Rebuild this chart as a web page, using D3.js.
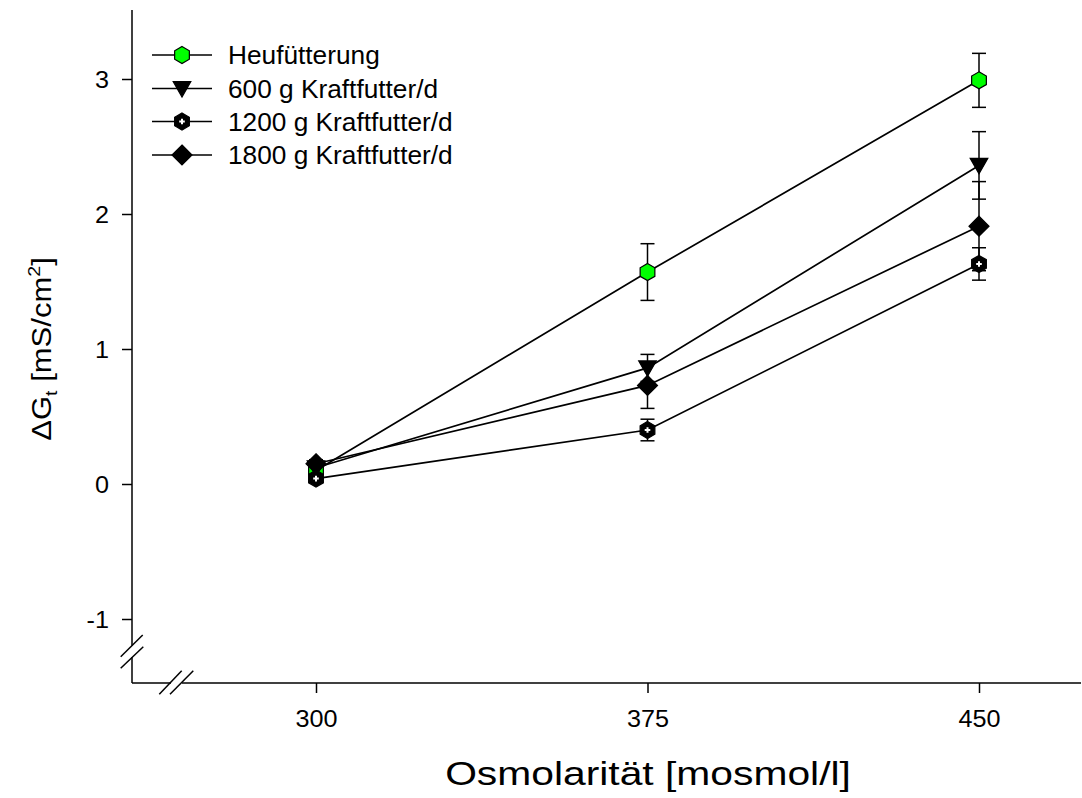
<!DOCTYPE html>
<html><head><meta charset="utf-8">
<script src="https://cdn.jsdelivr.net/npm/d3@7"></script>
<style>
html,body{margin:0;padding:0;background:#fff;}
text{font-family:"Liberation Sans",Arial,sans-serif;fill:#000;}
</style></head>
<body><svg id="chart" width="1082" height="798"></svg>
<script>
// ---- data ----
const osmolarity = [300, 375, 450];
const seriesNames = ["Heufütterung", "600 g Kraftfutter/d", "1200 g Kraftfutter/d", "1800 g Kraftfutter/d"];
const heuMean = [0.10, 1.57, 2.99];
const heuErr = [0.03, 0.21, 0.20];
const k600Mean = [0.12, 0.86, 2.36];
const k600Err = [0.03, 0.10, 0.25];
const k1200Mean = [0.04, 0.40, 1.63];
const k1200Err = [0.02, 0.08, 0.12];
const k1800Mean = [0.15, 0.73, 1.91];
const k1800Err = [0.03, 0.17, 0.33];
const yTicks = [-1, 0, 1, 2, 3];
const yTickLabels = ["-1", "0", "1", "2", "3"];
const xTickLabels = ["300", "375", "450"];

const series = [
  {name: seriesNames[0], mean: heuMean, err: heuErr, marker: "hexagon", fill: "#00ff00"},
  {name: seriesNames[1], mean: k600Mean, err: k600Err, marker: "triangleDown", fill: "#000"},
  {name: seriesNames[2], mean: k1200Mean, err: k1200Err, marker: "hexPlus", fill: "#000"},
  {name: seriesNames[3], mean: k1800Mean, err: k1800Err, marker: "diamond", fill: "#000"}
];

const svg = d3.select("#chart");
const x = d3.scaleLinear().domain([300, 450]).range([316, 979]);
const y = d3.scaleLinear().domain([0, 3]).range([484, 79]);
const axX0 = 132, axX1 = 1081, axY0 = 683, axY1 = 10;
const SX = 1.05;

function markerPath(type) {
  if (type === "hexagon" || type === "hexPlus") {
    const r = 8.5; const pts = [];
    for (let i = 0; i < 6; i++) { const a = Math.PI / 3 * i - Math.PI / 2; pts.push([r * Math.cos(a), r * Math.sin(a)]); }
    return "M" + pts.map(p => p.join(",")).join("L") + "Z";
  }
  if (type === "triangleDown") return "M-8.8,-7L8.8,-7L0,8.5Z";
  if (type === "diamond") return "M0,-10L10,0L0,10L-10,0Z";
}
function drawMarker(g, type, fill) {
  g.append("path").attr("d", markerPath(type)).attr("fill", fill).attr("stroke", "#000").attr("stroke-width", 1.2);
  if (type === "hexPlus") {
    g.append("path").attr("d", "M-2.8,0H2.8M0,-2.8V2.8").attr("stroke", "#fff").attr("stroke-width", 2);
  }
}

// axes lines with breaks
const axes = svg.append("g").attr("stroke", "#000").attr("stroke-width", 1.5).attr("fill", "none");
axes.append("line").attr("x1", axX0).attr("x2", axX0).attr("y1", axY1).attr("y2", 645.5);
axes.append("line").attr("x1", axX0).attr("x2", axX0).attr("y1", 657).attr("y2", axY0);
axes.append("line").attr("x1", axX0).attr("x2", 171).attr("y1", axY0).attr("y2", axY0);
axes.append("line").attr("x1", 182).attr("x2", axX1).attr("y1", axY0).attr("y2", axY0);
// break marks
axes.append("line").attr("x1", 120.7).attr("y1", 656.7).attr("x2", 142.7).attr("y2", 635);
axes.append("line").attr("x1", 120.7).attr("y1", 668.3).attr("x2", 143.3).attr("y2", 646.7);
axes.append("line").attr("x1", 159.3).attr("y1", 694.3).attr("x2", 181.7).attr("y2", 670.7);
axes.append("line").attr("x1", 170).attr("y1", 694.3).attr("x2", 193.3).attr("y2", 670.7);

// x axis ticks
const gx = svg.append("g").attr("transform", `translate(0,${axY0})`)
  .call(d3.axisBottom(x).tickValues(osmolarity).tickSize(10).tickSizeOuter(0)
    .tickFormat((d, i) => xTickLabels[i]));
gx.select(".domain").remove();
gx.selectAll(".tick line").attr("stroke", "#000").attr("stroke-width", 1.5);
gx.selectAll(".tick text").attr("font-size", 24).attr("font-family", "Liberation Sans, Arial, sans-serif")
  .attr("fill", "#000").attr("y", 44).attr("dy", 0).attr("transform", `scale(${SX},1)`);

// y axis ticks
const gy = svg.append("g").attr("transform", `translate(${axX0},0)`)
  .call(d3.axisLeft(y).tickValues(yTicks).tickSize(10).tickSizeOuter(0)
    .tickFormat((d, i) => yTickLabels[i]));
gy.select(".domain").remove();
gy.selectAll(".tick line").attr("stroke", "#000").attr("stroke-width", 1.5);
gy.selectAll(".tick text").attr("font-size", 24).attr("font-family", "Liberation Sans, Arial, sans-serif")
  .attr("fill", "#000").attr("x", -23 / SX).attr("dy", "0.36em").attr("transform", `scale(${SX},1)`);

// lines
const line = d3.line().x((d, i) => x(osmolarity[i])).y(d => y(d));
const plot = svg.append("g");
series.forEach(s => {
  plot.append("path").attr("d", line(s.mean)).attr("fill", "none").attr("stroke", "#000").attr("stroke-width", 1.7);
});
// error bars
series.forEach(s => {
  s.mean.forEach((m, i) => {
    const cx = x(osmolarity[i]);
    const g = plot.append("g").attr("stroke", "#000").attr("stroke-width", 1.5);
    g.append("line").attr("x1", cx).attr("x2", cx).attr("y1", y(m - s.err[i])).attr("y2", y(m + s.err[i]));
    [m - s.err[i], m + s.err[i]].forEach(v => {
      g.append("line").attr("x1", cx - 7).attr("x2", cx + 7).attr("y1", y(v)).attr("y2", y(v));
    });
  });
});
// markers
series.forEach(s => {
  s.mean.forEach((m, i) => {
    const g = plot.append("g").attr("transform", `translate(${x(osmolarity[i])},${y(m)})`);
    drawMarker(g, s.marker, s.fill);
  });
});

// legend
const legY = [55, 88.5, 121.5, 155];
series.forEach((s, i) => {
  const g = svg.append("g").attr("transform", `translate(0,${legY[i]})`);
  g.append("line").attr("x1", 152).attr("x2", 212).attr("y1", 0).attr("y2", 0).attr("stroke", "#000").attr("stroke-width", 1.7);
  const mg = g.append("g").attr("transform", "translate(182,0)");
  drawMarker(mg, s.marker, s.fill);
  g.append("text").attr("transform", `translate(228,9) scale(1.05,1)`).attr("font-size", 25).text(s.name);
});

// axis titles
svg.append("text").attr("transform", `translate(648,785) scale(1.2,1)`).attr("text-anchor", "middle")
  .attr("font-size", 34).text("Osmolarität [mosmol/l]");
const yt = svg.append("text").attr("transform", `translate(51,349) rotate(-90) scale(1.15,1)`).attr("text-anchor", "middle")
  .attr("font-size", 27);
yt.append("tspan").text("ΔG");
yt.append("tspan").attr("font-size", 17).attr("dy", 6).text("t");
yt.append("tspan").attr("dy", -6).text(" [mS/cm");
yt.append("tspan").attr("font-size", 17).attr("dy", -11).text("2");
yt.append("tspan").attr("dy", 11).text("]");
</script>
</body></html>
